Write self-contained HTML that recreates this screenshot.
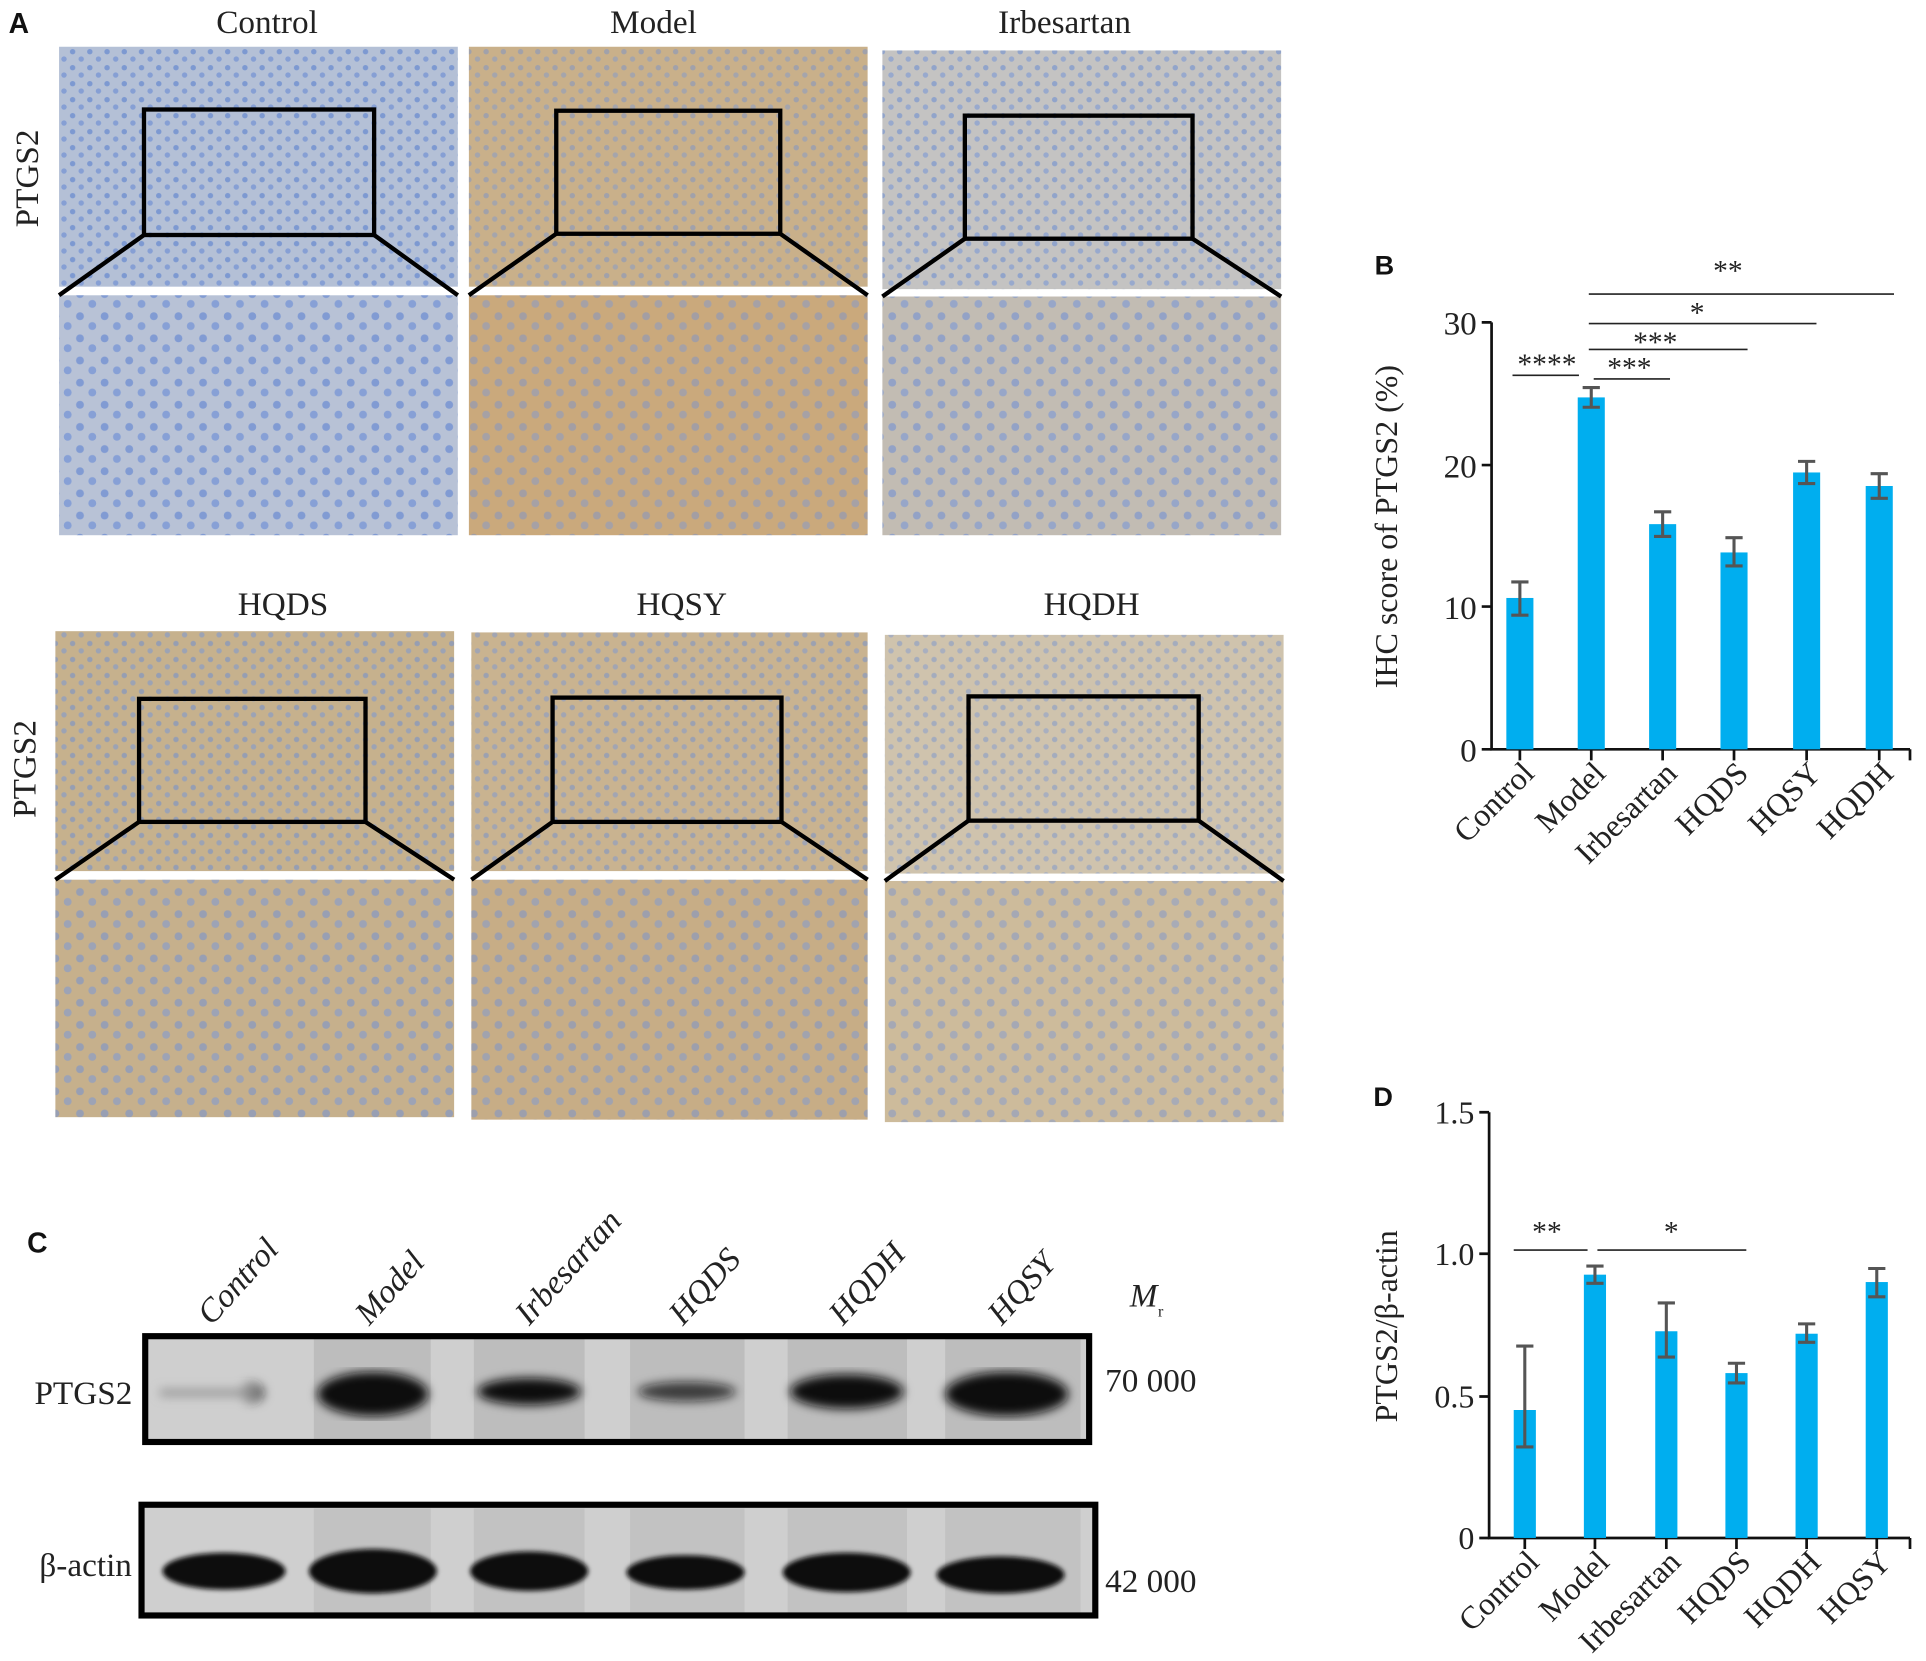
<!DOCTYPE html>
<html><head><meta charset="utf-8"><style>
html,body{margin:0;padding:0;background:#fff;}
svg{display:block;}
.s{font-family:"Liberation Serif",serif;fill:#222;}
.b{font-family:"Liberation Sans",sans-serif;font-weight:bold;fill:#111;}
</style></head><body>
<svg width="1926" height="1661" viewBox="0 0 1565 1350" preserveAspectRatio="none" xmlns="http://www.w3.org/2000/svg">
<defs>
<pattern id="pb" width="14" height="13" patternUnits="userSpaceOnUse">
<circle cx="3" cy="3" r="2.2" fill="#6f8fd0"/><circle cx="10" cy="9" r="2.2" fill="#7a97d4"/>
</pattern>
<pattern id="pbz" width="20" height="18" patternUnits="userSpaceOnUse">
<circle cx="5" cy="5" r="3.2" fill="#7391d2"/><circle cx="15" cy="13" r="3.2" fill="#7b98d6"/>
</pattern>
<filter id="bl"><feGaussianBlur stdDeviation="4"/></filter>
<filter id="bl2"><feGaussianBlur stdDeviation="2"/></filter>
</defs>
<rect width="1565" height="1350" fill="#fff"/>

<!-- Panel A -->
<text x="7" y="27" class="b" font-size="23">A</text>
<text x="217" y="27" class="s" font-size="27" text-anchor="middle">Control</text>
<text x="531" y="27" class="s" font-size="27" text-anchor="middle">Model</text>
<text x="865" y="27" class="s" font-size="27" text-anchor="middle">Irbesartan</text>
<text x="230" y="500" class="s" font-size="27" text-anchor="middle">HQDS</text>
<text x="554" y="500" class="s" font-size="27" text-anchor="middle">HQSY</text>
<text x="887" y="500" class="s" font-size="27" text-anchor="middle">HQDH</text>
<text transform="translate(31,145) rotate(-90)" class="s" font-size="27" text-anchor="middle">PTGS2</text>
<text transform="translate(29,625) rotate(-90)" class="s" font-size="27" text-anchor="middle">PTGS2</text>

<!-- row1 -->
<rect x="48" y="38" width="324" height="195" fill="#b4c0d6"/><rect x="48" y="38" width="324" height="195" fill="url(#pb)" opacity="0.8"/>
<rect x="48" y="240" width="324" height="195" fill="#b8c2d6"/><rect x="48" y="240" width="324" height="195" fill="url(#pbz)" opacity="0.8"/>
<rect x="381" y="38" width="324" height="195" fill="#c9b08a"/><rect x="381" y="38" width="324" height="195" fill="url(#pb)" opacity="0.45"/>
<rect x="381" y="240" width="324" height="195" fill="#caa97c"/><rect x="381" y="240" width="324" height="195" fill="url(#pbz)" opacity="0.45"/>
<rect x="717" y="41" width="324" height="194" fill="#c4c3c2"/><rect x="717" y="41" width="324" height="194" fill="url(#pb)" opacity="0.6"/>
<rect x="717" y="241" width="324" height="194" fill="#c2bcb3"/><rect x="717" y="241" width="324" height="194" fill="url(#pbz)" opacity="0.6"/>
<!-- row2 -->
<rect x="45" y="513" width="324" height="195" fill="#c6b18d"/><rect x="45" y="513" width="324" height="195" fill="url(#pb)" opacity="0.55"/>
<rect x="45" y="715" width="324" height="193" fill="#c6b08c"/><rect x="45" y="715" width="324" height="193" fill="url(#pbz)" opacity="0.55"/>
<rect x="383" y="514" width="322" height="194" fill="#c9b390"/><rect x="383" y="514" width="322" height="194" fill="url(#pb)" opacity="0.5"/>
<rect x="383" y="715" width="322" height="195" fill="#c7ad86"/><rect x="383" y="715" width="322" height="195" fill="url(#pbz)" opacity="0.5"/>
<rect x="719" y="516" width="324" height="194" fill="#cfc3ad"/><rect x="719" y="516" width="324" height="194" fill="url(#pb)" opacity="0.45"/>
<rect x="719" y="716" width="324" height="196" fill="#cdbb9b"/><rect x="719" y="716" width="324" height="196" fill="url(#pbz)" opacity="0.45"/>

<g fill="none" stroke="#000" stroke-width="3.5">
<rect x="117" y="89" width="187" height="102"/><path d="M117 191 L48 240 M304 191 L372 240"/>
<rect x="452" y="90" width="182" height="100"/><path d="M452 190 L381 240 M634 190 L705 240"/>
<rect x="784" y="94" width="185" height="100"/><path d="M784 194 L717 241 M969 194 L1041 241"/>
<rect x="113" y="568" width="184" height="100"/><path d="M113 668 L45 715 M297 668 L369 715"/>
<rect x="449" y="567" width="186" height="101"/><path d="M449 668 L383 715 M635 668 L705 715"/>
<rect x="787" y="566" width="187" height="101"/><path d="M787 667 L719 716 M974 667 L1043 716"/>
</g>

<!-- Panel B -->
<text x="1117" y="223" class="b" font-size="22">B</text>
<g stroke="#111" stroke-width="2.2" fill="none">
<path d="M1212 262 V609 H1552"/>
<path d="M1204 262 H1212 M1204 378 H1212 M1204 493 H1212 M1204 609 H1212"/>
<path d="M1235 609 V618 M1293 609 V618 M1351 609 V618 M1409 609 V618 M1468 609 V618 M1527 609 V618 M1552 609 V618"/>
</g>
<g class="s" font-size="27" text-anchor="end">
<text x="1200" y="272">30</text><text x="1200" y="388">20</text><text x="1200" y="503">10</text><text x="1200" y="619">0</text>
</g>
<text transform="translate(1135,428) rotate(-90)" class="s" font-size="26" text-anchor="middle">IHC score of PTGS2 (%)</text>
<g fill="#00aeef">
<rect x="1224" y="486" width="22" height="123"/>
<rect x="1282" y="323" width="22" height="286"/>
<rect x="1340" y="426" width="22" height="183"/>
<rect x="1398" y="449" width="22" height="160"/>
<rect x="1457" y="384" width="22" height="225"/>
<rect x="1516" y="395" width="22" height="214"/>
</g>
<g stroke="#555" stroke-width="2.5">
<path d="M1235 473 V500 M1228 473 H1242 M1228 500 H1242"/>
<path d="M1293 315 V331 M1286 315 H1300 M1286 331 H1300"/>
<path d="M1351 416 V436 M1344 416 H1358 M1344 436 H1358"/>
<path d="M1409 437 V460 M1402 437 H1416 M1402 460 H1416"/>
<path d="M1468 375 V393 M1461 375 H1475 M1461 393 H1475"/>
<path d="M1527 385 V405 M1520 385 H1534 M1520 405 H1534"/>
</g>
<g stroke="#222" stroke-width="1.3">
<path d="M1229 305 H1283 M1295 308 H1357 M1291 284 H1420 M1291 263 H1476 M1291 239 H1539"/>
</g>
<g class="s" font-size="24" text-anchor="middle">
<text x="1257" y="304">****</text><text x="1324" y="307">***</text><text x="1345" y="286">***</text><text x="1379" y="262">*</text><text x="1404" y="228">**</text>
</g>
<g class="s" font-size="26" text-anchor="end">
<text transform="translate(1248,630) rotate(-45)">Control</text>
<text transform="translate(1306,630) rotate(-45)">Model</text>
<text transform="translate(1364,630) rotate(-45)">Irbesartan</text>
<text transform="translate(1422,630) rotate(-45)">HQDS</text>
<text transform="translate(1481,630) rotate(-45)">HQSY</text>
<text transform="translate(1540,630) rotate(-45)">HQDH</text>
</g>

<!-- Panel D -->
<text x="1116" y="899" class="b" font-size="22">D</text>
<g stroke="#111" stroke-width="2.2" fill="none">
<path d="M1210 904 V1250 H1552"/>
<path d="M1202 904 H1210 M1202 1019 H1210 M1202 1135 H1210 M1202 1250 H1210"/>
<path d="M1239 1250 V1259 M1296 1250 V1259 M1354 1250 V1259 M1411 1250 V1259 M1468 1250 V1259 M1525 1250 V1259 M1552 1250 V1259"/>
</g>
<g class="s" font-size="26" text-anchor="end">
<text x="1198" y="913">1.5</text><text x="1198" y="1028">1.0</text><text x="1198" y="1144">0.5</text><text x="1198" y="1259">0</text>
</g>
<text transform="translate(1135,1078) rotate(-90)" class="s" font-size="26" text-anchor="middle">PTGS2/β-actin</text>
<g fill="#00aeef">
<rect x="1230" y="1146" width="18" height="104"/>
<rect x="1287" y="1036" width="18" height="214"/>
<rect x="1345" y="1082" width="18" height="168"/>
<rect x="1402" y="1116" width="18" height="134"/>
<rect x="1459" y="1084" width="18" height="166"/>
<rect x="1516" y="1042" width="18" height="208"/>
</g>
<g stroke="#555" stroke-width="2.5">
<path d="M1239 1094 V1176 M1232 1094 H1246 M1232 1176 H1246"/>
<path d="M1296 1029 V1043 M1289 1029 H1303 M1289 1043 H1303"/>
<path d="M1354 1059 V1103 M1347 1059 H1361 M1347 1103 H1361"/>
<path d="M1411 1108 V1124 M1404 1108 H1418 M1404 1124 H1418"/>
<path d="M1468 1076 V1091 M1461 1076 H1475 M1461 1091 H1475"/>
<path d="M1525 1031 V1054 M1518 1031 H1532 M1518 1054 H1532"/>
</g>
<g stroke="#222" stroke-width="1.3"><path d="M1230 1016 H1290 M1298 1016 H1419"/></g>
<g class="s" font-size="24" text-anchor="middle"><text x="1257" y="1009">**</text><text x="1358" y="1009">*</text></g>
<g class="s" font-size="26" text-anchor="end">
<text transform="translate(1252,1271) rotate(-45)">Control</text>
<text transform="translate(1309,1271) rotate(-45)">Model</text>
<text transform="translate(1367,1271) rotate(-45)">Irbesartan</text>
<text transform="translate(1424,1271) rotate(-45)">HQDS</text>
<text transform="translate(1481,1271) rotate(-45)">HQDH</text>
<text transform="translate(1538,1271) rotate(-45)">HQSY</text>
</g>

<!-- Panel C -->
<text x="22" y="1018" class="b" font-size="23">C</text>
<g class="s" font-size="27" font-style="italic">
<text transform="translate(172,1078) rotate(-48)">Control</text>
<text transform="translate(300,1078) rotate(-48)">Model</text>
<text transform="translate(430,1078) rotate(-48)">Irbesartan</text>
<text transform="translate(555,1078) rotate(-48)">HQDS</text>
<text transform="translate(685,1078) rotate(-48)">HQDH</text>
<text transform="translate(814,1078) rotate(-48)">HQSY</text>
<text x="918" y="1062">M</text>
</g>
<text x="941" y="1070" class="s" font-size="13">r</text>
<text x="28" y="1141" class="s" font-size="27">PTGS2</text>
<text x="32" y="1281" class="s" font-size="27">β-actin</text>
<text x="898" y="1131" class="s" font-size="27">70 000</text>
<text x="898" y="1294" class="s" font-size="27">42 000</text>

<rect x="118" y="1086" width="767" height="86" fill="#cfcfcf"/>
<g fill="#bdbdbd"><rect x="255" y="1088" width="95" height="82"/><rect x="385" y="1088" width="90" height="82"/><rect x="512" y="1088" width="93" height="82"/><rect x="640" y="1088" width="97" height="82"/><rect x="768" y="1088" width="110" height="82"/></g>
<g fill="#111" filter="url(#bl)">
<ellipse cx="205" cy="1132" rx="10" ry="8" opacity="0.6"/><rect x="130" y="1129" width="75" height="6" fill="#999"/>
<ellipse cx="303" cy="1133" rx="45" ry="18"/>
<ellipse cx="430" cy="1131" rx="42" ry="11"/>
<ellipse cx="558" cy="1131" rx="40" ry="8" opacity="0.75"/>
<ellipse cx="688" cy="1131" rx="46" ry="14"/>
<ellipse cx="818" cy="1133" rx="50" ry="18"/>
</g>
<rect x="118" y="1086" width="767" height="86" fill="none" stroke="#000" stroke-width="5"/>

<rect x="115" y="1223" width="775" height="90" fill="#cfcfcf"/>
<g fill="#c2c2c2"><rect x="255" y="1226" width="95" height="85"/><rect x="385" y="1226" width="90" height="85"/><rect x="512" y="1226" width="93" height="85"/><rect x="640" y="1226" width="97" height="85"/><rect x="768" y="1226" width="110" height="85"/></g>
<g fill="#0a0a0a" filter="url(#bl2)">
<ellipse cx="182" cy="1277" rx="50" ry="15"/>
<ellipse cx="303" cy="1277" rx="52" ry="18"/>
<ellipse cx="430" cy="1277" rx="48" ry="16"/>
<ellipse cx="557" cy="1278" rx="48" ry="14"/>
<ellipse cx="688" cy="1278" rx="52" ry="16"/>
<ellipse cx="813" cy="1280" rx="52" ry="15"/>
</g>
<rect x="115" y="1223" width="775" height="90" fill="none" stroke="#000" stroke-width="5"/>
</svg>
</body></html>
